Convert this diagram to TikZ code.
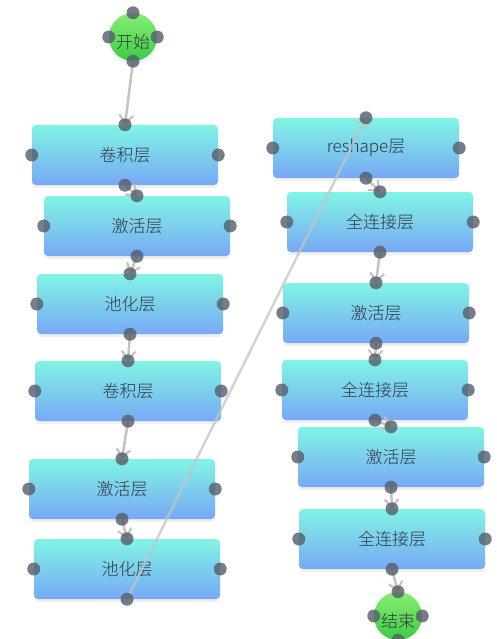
\documentclass[tikz,border=0pt]{standalone}
\usepackage{fontspec}
\setmainfont{Noto Sans CJK SC}[UprightFont=* Light]
\usepackage{xcolor}
\usetikzlibrary{arrows.meta, shadows}
\definecolor{LayerTop}{HTML}{80F5E4}
\definecolor{LayerBot}{HTML}{78A8F5}
\definecolor{TermTop}{HTML}{86EE72}
\definecolor{TermBot}{HTML}{3DCB45}
\definecolor{PortGray}{HTML}{555D6A}
\definecolor{LinkGray}{HTML}{C4C4C4}
\definecolor{LabelGray}{HTML}{333840}

\begin{document}
\begin{tikzpicture}[x=1pt, y=-1pt,
    layer/.style={rounded corners=4pt, minimum width=186pt, minimum height=60pt, inner sep=0pt,
        top color=LayerTop, bottom color=LayerBot, text=LabelGray, font=\fontsize{17}{20}\selectfont,
        drop shadow={opacity=0.12, shadow xshift=0pt, shadow yshift=-3pt}},
    term/.style={circle, minimum size=48pt, inner sep=0pt, top color=TermTop, bottom color=TermBot,
        drop shadow={opacity=0.12, shadow xshift=0pt, shadow yshift=-3pt},
        label={[text=LabelGray, font=\fontsize{17}{20}\selectfont, yshift=-5pt]center:#1}},
    port/.style={circle, fill=PortGray, minimum size=13pt, inner sep=0pt, opacity=0.8},
    link/.style={LinkGray, line width=2.5pt, -{Straight Barb[length=8pt, width=14pt, line width=2.2pt]}}]
    \useasboundingbox (0,0) rectangle (496,639);
    \node[term=开始] (start) at (133,37) {};
    \node[layer] (conv1) at (125,155) {卷积层};
    \node[layer] (act1) at (137,226) {激活层};
    \node[layer] (pool1) at (130,304) {池化层};
    \node[layer] (conv2) at (128,391) {卷积层};
    \node[layer] (act2) at (122,489) {激活层};
    \node[layer] (pool2) at (127,569) {池化层};
    \node[layer] (reshape) at (366,148) {reshape层};
    \node[layer] (fc1) at (380,222) {全连接层};
    \node[layer] (act3) at (376,313) {激活层};
    \node[layer] (fc2) at (375,390) {全连接层};
    \node[layer] (act4) at (391,457) {激活层};
    \node[layer] (fc3) at (392,539) {全连接层};
    \node[term=结束] (stop) at (398,616) {};
    \draw[link] (start.south) -- (conv1.north);
    \draw[link] (conv1.south) -- (act1.north);
    \draw[link] (act1.south) -- (pool1.north);
    \draw[link] (pool1.south) -- (conv2.north);
    \draw[link] (conv2.south) -- (act2.north);
    \draw[link] (act2.south) -- (pool2.north);
    \draw[link, opacity=0.75] (pool2.south) -- (reshape.north);
    \draw[link] (reshape.south) -- (fc1.north);
    \draw[link] (fc1.south) -- (act3.north);
    \draw[link] (act3.south) -- (fc2.north);
    \draw[link] (fc2.south) -- (act4.north);
    \draw[link] (act4.south) -- (fc3.north);
    \draw[link] (fc3.south) -- (stop.north);
    \foreach \n in {start, conv1, act1, pool1, conv2, act2, pool2, reshape, fc1, act3, fc2, act4, fc3, stop}
        \foreach \a in {north, south, west, east}
            \node[port] at (\n.\a) {};
\end{tikzpicture}
\end{document}
